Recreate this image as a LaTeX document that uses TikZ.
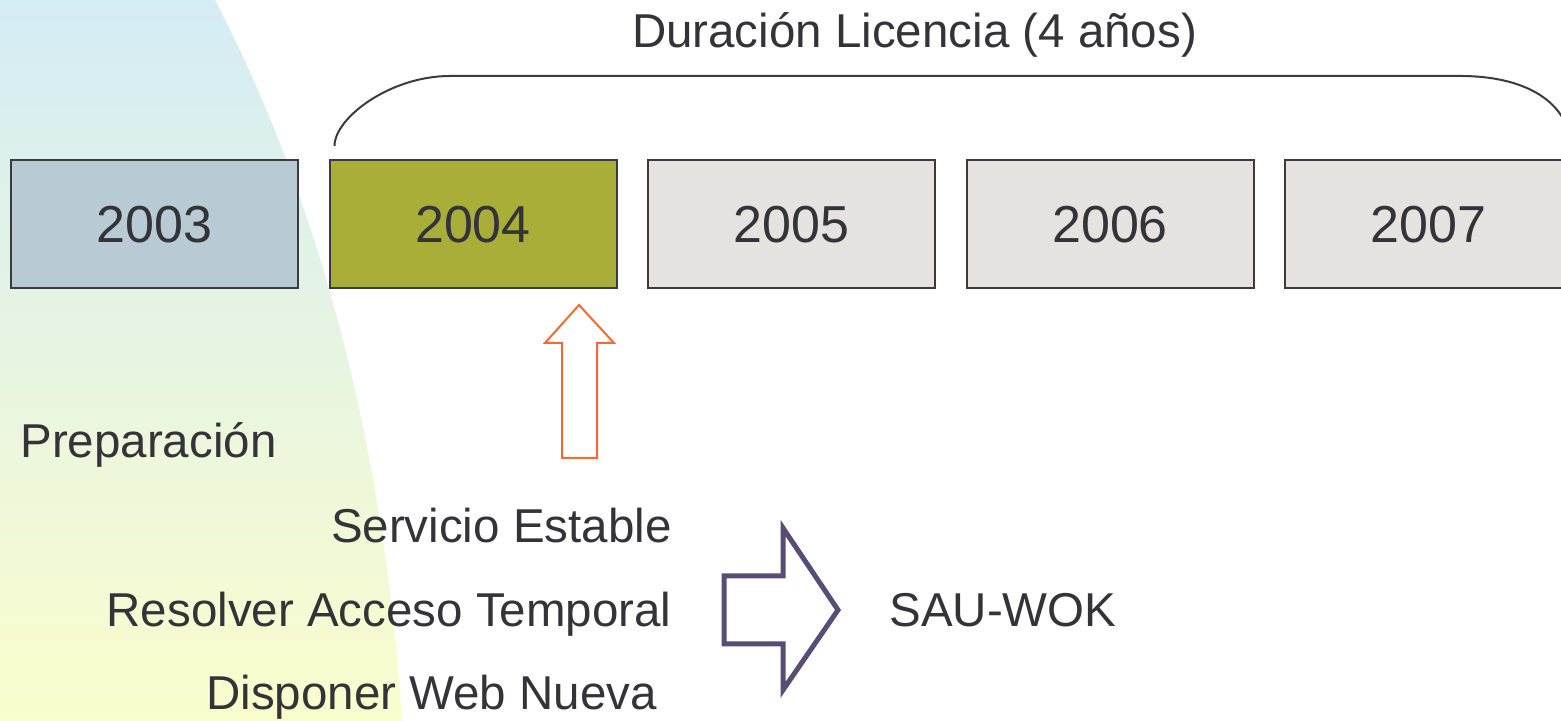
\documentclass[tikz,border=0pt]{standalone}
\usepackage{fontspec}
\setmainfont{Liberation Sans}
\usepackage{tikz}
\usepackage{xcolor}
\usetikzlibrary{positioning}

\definecolor{txtgray}{HTML}{333338}
\definecolor{boxline}{HTML}{3A3A3F}
\definecolor{blue03}{HTML}{B8CAD3}
\definecolor{olive04}{HTML}{A8AE38}
\definecolor{gray05}{HTML}{E6E2DF}
\definecolor{arroworange}{HTML}{F26B30}
\definecolor{arrowpurple}{HTML}{574D75}
\definecolor{bgtop}{HTML}{D4ECF5}
\definecolor{bgmid}{HTML}{E9F5E3}
\definecolor{bgbottom}{HTML}{FAFDCC}

\begin{document}
\begin{tikzpicture}[x=0.5pt, y=0.5pt, node distance=14.75pt,
            every node/.style={text=txtgray, inner sep=0pt, font=\fontsize{23.75}{28}\selectfont},
            yearbox/.style={draw=boxline, line width=1pt, minimum width=143.5pt, minimum height=64pt,
                            text height=19pt, text depth=-1pt, font=\fontsize{26}{30}\selectfont}]
            \useasboundingbox (0,0) rectangle (1561,721);
            \begin{scope}
                \clip (0,0) rectangle (1561,721);
                \shade[top color=bgtop, middle color=bgmid, bottom color=bgbottom]
                    (0,721) -- (215,721) .. controls (320,520) and (385,270) .. (402,0) -- (0,0) -- cycle;

                \node[yearbox, fill=blue03] (A) at (154.5,497) {2003};
                \node[yearbox, fill=olive04, right=of A] (B) {2004};
                \node[yearbox, fill=gray05, right=of B] (C) {2005};
                \node[yearbox, fill=gray05, right=of C] (D) {2006};
                \node[yearbox, fill=gray05, right=of D] (E) {2007};

                % llave sobre los anos de licencia
                \draw[boxline, line width=1pt] ([xshift=3pt, yshift=6.5pt]B.north west)
                    .. controls +(0,28) and (390,645) .. (450,645) -- (1460,645)
                    .. controls (1525,645) and (1560,620) .. (1568,590);
            \end{scope}

            \node[anchor=base] (T) at (914.5,673) {Duración Licencia (4 años)};

            \node[anchor=base west] (P) at (20,263) {Preparación};
            \node[anchor=base east] (S1) at (672,178) {Servicio Estable};
            \node[anchor=base east] (S2) at (672,94) {Resolver Acceso Temporal};
            \node[anchor=base] (S3) at (431.5,11) {Disponer Web Nueva};
            \node[anchor=base west] (W) at (889,94) {SAU-WOK};

            % flecha hacia 2004
            \draw[arroworange, line width=1pt] (562,263) -- (562,378) -- (545,378) -- (579,416)
                -- (614,378) -- (597,378) -- (597,263) -- cycle;

            % flecha hacia SAU-WOK
            \draw[arrowpurple, line width=2.5pt, line join=miter] (724,145) -- (783,145) -- (783,193)
                -- (838,111) -- (783,31) -- (783,77) -- (724,77) -- cycle;
        \end{tikzpicture}
\end{document}
